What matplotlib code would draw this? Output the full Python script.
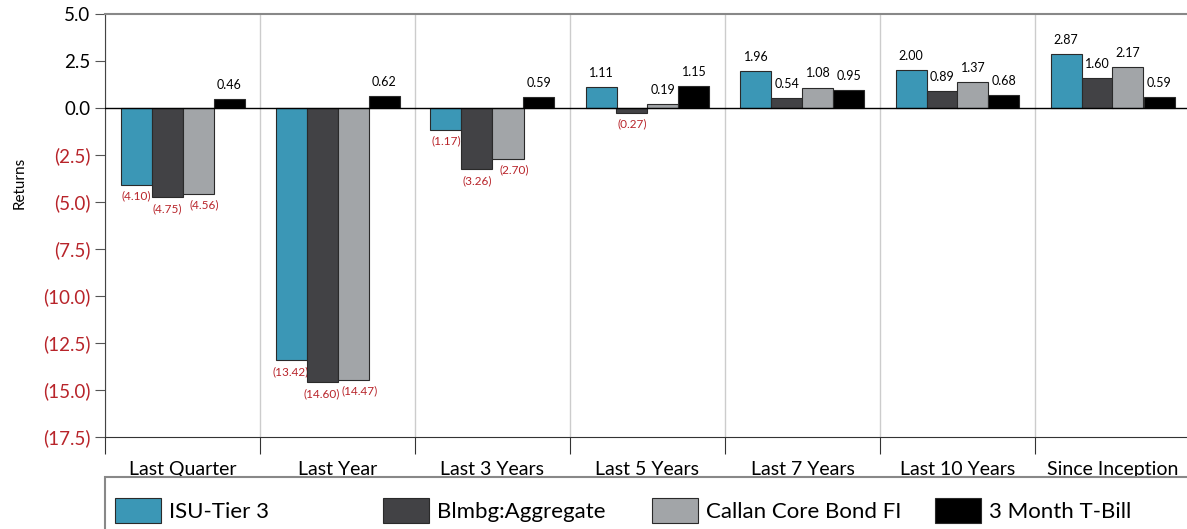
import matplotlib.pyplot as plt
import numpy as np
from matplotlib.ticker import FuncFormatter, FixedLocator
from matplotlib.patches import Rectangle

plt.rcParams['font.family'] = ['Lato', 'DejaVu Sans']

categories = ["Last Quarter", "Last Year", "Last 3 Years", "Last 5 Years",
              "Last 7 Years", "Last 10 Years", "Since Inception"]
series_names = ["ISU-Tier 3", "Blmbg:Aggregate", "Callan Core Bond FI", "3 Month T-Bill"]
isu_tier3 = [-4.10, -13.42, -1.17, 1.11, 1.96, 2.00, 2.87]
blmbg_agg = [-4.75, -14.60, -3.26, -0.27, 0.54, 0.89, 1.60]
callan_core = [-4.56, -14.47, -2.70, 0.19, 1.08, 1.37, 2.17]
tbill_3m = [0.46, 0.62, 0.59, 1.15, 0.95, 0.68, 0.59]
colors = ["#3b97b6", "#424245", "#a2a5a8", "#000000"]
RED = "#b8242a"

W, H = 1187, 529
fig = plt.figure(figsize=(W / 100, H / 100), dpi=100)
ax = fig.add_axes([105 / W, 92 / H, 1085 / W, 423 / H])

x = np.arange(len(categories))
width = 0.2
all_series = [isu_tier3, blmbg_agg, callan_core, tbill_3m]
handles = []
for i, (vals, name, col) in enumerate(zip(all_series, series_names, colors)):
    pos = x + (i - 1.5) * width
    bars = ax.bar(pos, vals, width, color=col, edgecolor="#2a2a2a", linewidth=0.8,
                  label=name, zorder=3)
    handles.append(bars)
    # gray negative labels lean right a little so they clear their neighbour
    dx = 4.5 if i == 2 else 0
    for px, v in zip(pos, vals):
        if v >= 0:
            ax.annotate(f"{v:.2f}", (px, v), xytext=(0, 6), textcoords="offset points",
                        ha="center", va="bottom", fontsize=9, color="black")
        else:
            ax.annotate(f"({abs(v):.2f})", (px, v), xytext=(dx, -4), textcoords="offset points",
                        ha="center", va="top", fontsize=8.5, color=RED)

ax.axhline(0, color="black", linewidth=1.0, zorder=4)

ax.set_xlim(-0.5, len(categories) - 0.5)
ax.set_ylim(-17.5, 5.0)
ax.set_yticks(np.arange(-17.5, 5.01, 2.5))


def fmt(v, _):
    if v < 0:
        return f"({abs(v):.1f})"
    return f"{v:.1f}"


ax.yaxis.set_major_formatter(FuncFormatter(fmt))
for lbl, v in zip(ax.get_yticklabels(), ax.get_yticks()):
    lbl.set_color(RED if v < 0 else "black")
ax.tick_params(axis="y", labelsize=13.5, length=7, color="#555555")

# category labels sit between the boundary ticks
ax.xaxis.set_major_locator(FixedLocator(np.arange(-0.5, len(categories), 1.0)))
ax.xaxis.set_major_formatter(FuncFormatter(lambda v, _: ""))
ax.xaxis.set_minor_locator(FixedLocator(x))
ax.set_xticklabels(categories, minor=True)
ax.tick_params(axis="x", which="major", length=12, color="#333333")
ax.tick_params(axis="x", which="minor", length=0, labelsize=14, pad=17)
ax.grid(axis="x", which="major", color="#cccccc", linewidth=1.0, zorder=0)

ax.spines["top"].set_color("#888888")
ax.spines["top"].set_linewidth(1.5)
ax.spines["right"].set_visible(False)
ax.spines["left"].set_color("#444444")
ax.spines["bottom"].set_color("#333333")

ax.set_ylabel("Returns", fontsize=11)
ax.yaxis.set_label_coords(-0.072, 0.6)

# legend: one fixed-width column per series inside a box running off the page
fig.patches.append(Rectangle((105 / W, -0.05), 1.0, 0.05 + 52 / H, transform=fig.transFigure,
                             fill=False, edgecolor="#888888", linewidth=1.5))
col_x = [115, 383, 652, 935]
for h, name, cx in zip(handles, series_names, col_x):
    fig.legend([h], [name], loc="upper left", bbox_to_anchor=(cx / W, 31 / H),
               frameon=False, fontsize=16, handlelength=2.05, handleheight=1.35,
               handletextpad=0.4, borderpad=0, borderaxespad=0)

fig.savefig("out.png", dpi=100)
